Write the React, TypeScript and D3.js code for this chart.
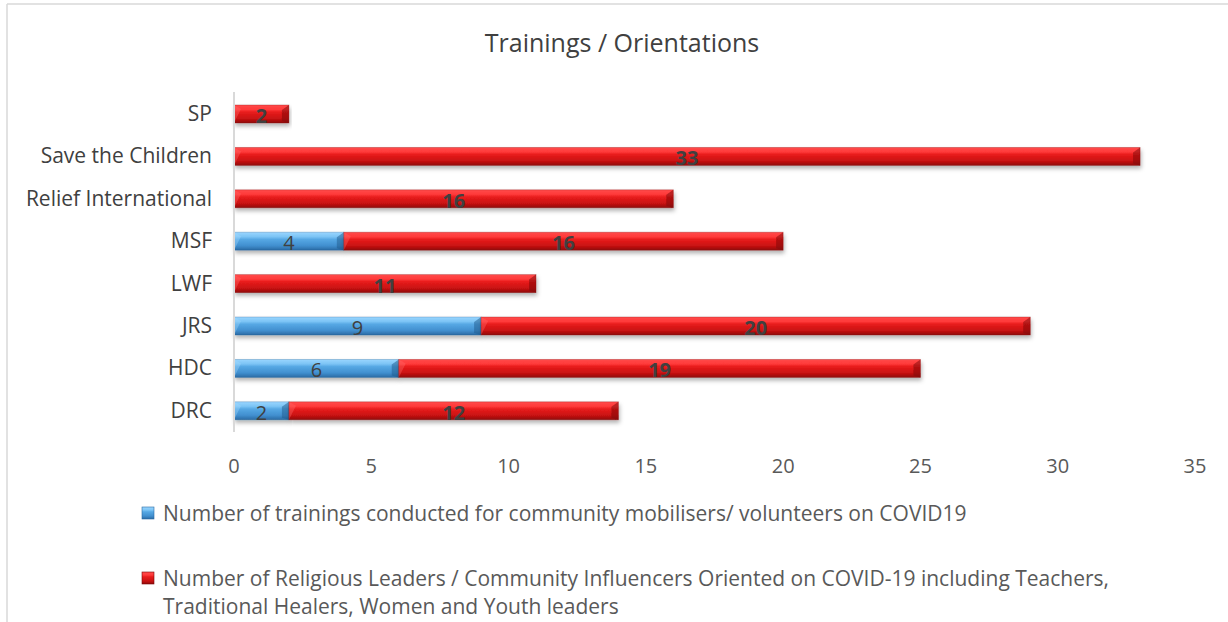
import React from "react";
import * as d3 from "d3";

const categories = ["SP", "Save the Children", "Relief International", "MSF", "LWF", "JRS", "HDC", "DRC"];
const trainings = [0, 0, 0, 4, 0, 9, 6, 2];
const oriented = [2, 33, 16, 16, 11, 20, 19, 12];
const xTicks = [0, 5, 10, 15, 20, 25, 30, 35];
const seriesNames = [
  "Number of trainings conducted for community mobilisers/ volunteers on COVID19",
  "Number of Religious Leaders / Community Influencers Oriented on COVID-19 including Teachers,",
  "Traditional Healers, Women and Youth leaders",
];

const W = 1228;
const H = 622;
const FONT = "'Open Sans', Lato, sans-serif";

const x = d3.scaleLinear().domain([0, 35]).range([234, 1195]);
const y = d3.scaleBand<string>().domain(categories).range([92.8, 432]).paddingInner(0.575).paddingOuter(0.2875);

function Bar(props: { x0: number; x1: number; y0: number; h: number; kind: string }) {
  const { x0, x1, y0, h, kind } = props;
  const w = x1 - x0;
  if (w <= 0) return null;
  const b = Math.min(7, w / 3);
  const dark = kind === "red" ? "#7a0808" : "#1f5a8c";
  const light = kind === "red" ? "#ff7070" : "#a9dcff";
  return (
    <g filter="url(#shadow)">
      <rect x={x0} y={y0} width={w} height={h} fill={`url(#grad-${kind})`} />
      <polygon points={`${x1},${y0} ${x1},${y0 + h} ${x1 - b},${y0 + h - 2} ${x1 - b},${y0 + 5}`} fill={dark} opacity={0.5} />
      <polygon points={`${x0},${y0} ${x0 + b},${y0 + 4} ${x0},${y0 + h}`} fill={light} opacity={0.35} />
      <rect x={x0} y={y0} width={w} height={h} fill="none" stroke={dark} strokeOpacity={0.35} strokeWidth={0.8} />
    </g>
  );
}

export default function App() {
  const h = y.bandwidth();
  return (
    <svg width={W} height={H} style={{ position: "absolute", left: 0, top: 0, background: "#fff" }} fontFamily={FONT}>
      <defs>
        <linearGradient id="grad-red" x1="0" y1="0" x2="0" y2="1">
          <stop offset="0" stopColor="#ff4a4a" />
          <stop offset="0.25" stopColor="#ff3a3a" />
          <stop offset="0.4" stopColor="#e81c1c" />
          <stop offset="0.75" stopColor="#c91212" />
          <stop offset="1" stopColor="#8f0a0a" />
        </linearGradient>
        <linearGradient id="grad-blue" x1="0" y1="0" x2="0" y2="1">
          <stop offset="0" stopColor="#9ad6ff" />
          <stop offset="0.25" stopColor="#7cc4f5" />
          <stop offset="0.4" stopColor="#56a8e4" />
          <stop offset="0.75" stopColor="#418fcf" />
          <stop offset="1" stopColor="#2a6aa3" />
        </linearGradient>
        <filter id="shadow" x="-5%" y="-40%" width="110%" height="200%">
          <feDropShadow dx="1" dy="3" stdDeviation="2" floodColor="#000" floodOpacity="0.3" />
        </filter>
      </defs>

      {/* chart frame */}
      <line x1={7} y1={4} x2={W} y2={4} stroke="#d9d9d9" strokeWidth={1.5} />
      <line x1={7} y1={4} x2={7} y2={H} stroke="#d9d9d9" strokeWidth={1.5} />

      <text x={622} y={52} textAnchor="middle" fontSize={25} fill="#404040">
        Trainings / Orientations
      </text>

      {/* category labels */}
      {categories.map((c) => (
        <text key={c} x={212} y={(y(c) as number) + h / 2 + 7} textAnchor="end" fontSize={21} fill="#404040">
          {c}
        </text>
      ))}

      {/* bars */}
      {categories.map((c, i) => {
        const y0 = y(c) as number;
        const a = trainings[i];
        const b = oriented[i];
        return (
          <g key={c}>
            <Bar x0={x(0)} x1={x(a)} y0={y0} h={h} kind="blue" />
            <Bar x0={x(a)} x1={x(a + b)} y0={y0} h={h} kind="red" />
          </g>
        );
      })}

      {/* value labels */}
      {categories.map((c, i) => {
        const y0 = y(c) as number;
        const a = trainings[i];
        const b = oriented[i];
        return (
          <g key={"l" + c} fontSize={20} fill="#404040">
            {a > 0 && (
              <text x={x(a / 2)} y={y0 + h / 2 + 9} textAnchor="middle">
                {a}
              </text>
            )}
            {b > 0 && (
              <text x={x(a + b / 2)} y={y0 + h / 2 + 9} textAnchor="middle" fontWeight="bold">
                {b}
              </text>
            )}
          </g>
        );
      })}

      {/* axis */}
      <line x1={x(0)} y1={92} x2={x(0)} y2={432} stroke="#d9d9d9" strokeWidth={2} />
      {xTicks.map((t) => (
        <text key={t} x={x(t)} y={473} textAnchor="middle" fontSize={20} fill="#595959">
          {t}
        </text>
      ))}

      {/* legend */}
      <rect x={142} y={507} width={12} height={12} fill="url(#grad-blue)" stroke="#2a6aa3" strokeWidth={0.6} />
      <text x={163} y={521} fontSize={21} fill="#595959">
        {seriesNames[0]}
      </text>
      <rect x={142} y={572} width={12} height={12} fill="url(#grad-red)" stroke="#7a0808" strokeWidth={0.6} />
      <text x={163} y={586} fontSize={21} fill="#595959">
        {seriesNames[1]}
      </text>
      <text x={163} y={614} fontSize={21} fill="#595959">
        {seriesNames[2]}
      </text>
    </svg>
  );
}
